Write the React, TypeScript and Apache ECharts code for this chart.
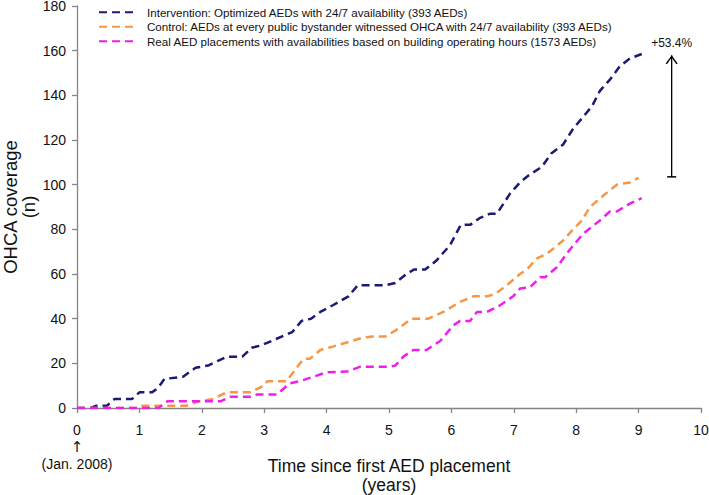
import React, { useEffect, useRef } from "react";
import * as echarts from "echarts";

const seriesNames = [
  "Intervention: Optimized AEDs with 24/7 availability (393 AEDs)",
  "Control: AEDs at every public bystander witnessed OHCA with 24/7 availability (393 AEDs)",
  "Real AED placements with availabilities based on building operating hours (1573 AEDs)",
];
const seriesColors = ["#1b1b74", "#f79646", "#ee1fee"];

const interventionYears = [0, 0.22, 0.3, 0.48, 0.6, 0.88, 1.0, 1.2, 1.3, 1.4, 1.7, 1.9, 2.1, 2.25, 2.4, 2.65, 2.8, 2.95, 3.2, 3.45, 3.6, 3.75, 3.9, 4.1, 4.35, 4.5, 4.95, 5.1, 5.28, 5.4, 5.58, 5.76, 5.98, 6.15, 6.3, 6.45, 6.62, 6.73, 6.94, 7.1, 7.23, 7.45, 7.6, 7.79, 7.95, 8.1, 8.25, 8.38, 8.54, 8.7, 8.86, 9.05];
const interventionValues = [0, 0, 1, 1, 4, 4, 7, 7, 9, 13, 14, 18, 19, 21, 23, 23, 27, 28, 31, 34, 39, 40, 43, 46, 50, 55, 55, 56, 60, 62, 62, 66, 73, 82, 82, 85, 87, 87, 96, 101, 104, 108, 114, 118, 125, 130, 135, 142, 147, 153, 156.5, 158.5];

const controlYears = [0, 1.0, 1.05, 1.75, 1.95, 2.18, 2.4, 2.77, 3.0, 3.05, 3.36, 3.52, 3.63, 3.73, 3.9, 4.1, 4.37, 4.59, 4.75, 4.94, 5.12, 5.36, 5.63, 5.87, 6.14, 6.35, 6.57, 6.7, 6.89, 7.1, 7.21, 7.37, 7.53, 7.79, 7.95, 8.09, 8.22, 8.43, 8.65, 8.86, 9.0];
const controlValues = [0, 0, 1, 1, 3, 4, 7, 7, 10, 12, 12, 18, 22, 22, 26, 27.5, 29.7, 31.6, 32, 32, 35, 40, 40, 43, 47.5, 50, 50, 51, 55, 60, 62, 67, 69, 75, 80, 84, 90, 95, 100, 101, 103];

const realYears = [0, 1.3, 1.45, 2.3, 2.45, 2.77, 2.88, 3.2, 3.41, 3.57, 3.79, 4.0, 4.33, 4.54, 5.02, 5.1, 5.23, 5.39, 5.6, 5.82, 6.03, 6.14, 6.3, 6.41, 6.57, 6.78, 6.99, 7.1, 7.26, 7.42, 7.5, 7.69, 7.9, 8.11, 8.38, 8.54, 8.65, 8.86, 9.05];
const realValues = [0, 0, 3, 3, 5, 5, 6, 6, 11, 12, 14, 16, 16.3, 18.5, 18.5, 19, 23, 26, 26, 30, 37, 39, 39, 43, 43, 46, 50, 53.5, 54, 58.5, 58.5, 63, 71, 78, 84, 88, 88, 91.5, 94];

const annotationX = 9.53;
const annotationFrom = 103.5;
const annotationTo = 158;
const annotationLabel = "+53.4%";

const xMin = 0;
const xMax = 10;
const xInterval = 1;
const yMin = 0;
const yMax = 180;
const yInterval = 20;
const originArrow = "↑";
const originNote = "(Jan. 2008)";

const xTitle = "Time since first AED placement\n(years)";
const yTitle = "OHCA coverage\n(n)";

const FONT = "'Liberation Sans', Arial, sans-serif";

const zip = (xs: number[], ys: number[]) => xs.map((x, i) => [x, ys[i]]);

export default function App() {
  const ref = useRef<HTMLDivElement>(null);
  useEffect(() => {
    if (!ref.current) return;
    const chart = echarts.init(ref.current, undefined, { renderer: "svg" });
    const data = [
      zip(interventionYears, interventionValues),
      zip(controlYears, controlValues),
      zip(realYears, realValues),
    ];
    const lineSeries = data.map((d, i) => ({
      name: seriesNames[i],
      type: "line",
      data: d,
      symbol: "none",
      showSymbol: false,
      color: seriesColors[i],
      lineStyle: { color: seriesColors[i], width: 2.5, type: [8, 5] },
      z: 2 + i,
    }));
    const axisColor = "#858585";
    chart.setOption({
      animation: false,
      textStyle: { fontFamily: FONT },
      grid: { left: 77, right: 8, top: 6, bottom: 87, containLabel: false, outerBoundsMode: "none" },
      legend: {
        data: seriesNames,
        orient: "vertical",
        left: 93,
        top: 0,
        itemWidth: 34,
        itemHeight: 10,
        itemGap: 0,
        itemStyle: { color: "transparent", borderColor: "transparent", borderWidth: 0, opacity: 0 },
        textStyle: {
          fontFamily: FONT,
          fontSize: 11.6,
          color: "#111",
          lineHeight: 14.5,
          padding: [0, 0, 0, 9],
        },
      },
      xAxis: {
        type: "value",
        min: xMin,
        max: xMax,
        interval: xInterval,
        name: xTitle,
        nameLocation: "middle",
        nameGap: 48,
        nameMoveOverlap: false,
        nameTextStyle: { fontFamily: FONT, fontSize: 17.5, color: "#111", lineHeight: 19 },
        axisLine: { lineStyle: { color: axisColor, width: 1.3 } },
        axisTick: { show: true, length: 5, lineStyle: { color: axisColor, width: 1.3 } },
        splitLine: { show: false },
        axisLabel: {
          margin: 13,
          fontFamily: FONT,
          fontSize: 14,
          color: "#111",
          lineHeight: 17,
          formatter: (v: number) => (v === 0 ? `0\n{arr|${originArrow}}\n${originNote}` : `${v}`),
          rich: {
            arr: { fontFamily: "'DejaVu Sans', sans-serif", fontSize: 15, color: "#111", lineHeight: 17 },
          },
        },
      },
      yAxis: {
        type: "value",
        min: yMin,
        max: yMax,
        interval: yInterval,
        name: yTitle,
        nameLocation: "middle",
        nameGap: 40,
        nameMoveOverlap: false,
        nameRotate: 90,
        nameTextStyle: { fontFamily: FONT, fontSize: 18.5, color: "#111", lineHeight: 18 },
        axisLine: { show: true, lineStyle: { color: axisColor, width: 1.3 } },
        axisTick: { show: true, length: 5, lineStyle: { color: axisColor, width: 1.3 } },
        splitLine: { show: false },
        axisLabel: { margin: 11, fontFamily: FONT, fontSize: 14, lineHeight: 12, color: "#111" },
      },
      series: [
        ...lineSeries,
        {
          name: "annotation",
          type: "line",
          z: 10,
          lineStyle: { color: "#000", width: 1.3, type: "solid" },
          itemStyle: { color: "#000" },
          data: [
            { value: [annotationX, annotationFrom], symbol: "rect", symbolSize: [9, 1.5] },
            {
              value: [annotationX, annotationTo],
              symbol: "path://M0,9.2 L5,0 L10,9.2 L8.9,10 L5,2.6 L1.1,10 Z",
              symbolSize: [12, 9],
              symbolOffset: [0, "50%"],
              label: {
                show: true,
                position: "top",
                distance: 6,
                formatter: annotationLabel,
                fontFamily: FONT,
                fontSize: 12,
                color: "#111",
              },
            },
          ],
        },
      ],
    });
    return () => chart.dispose();
  }, []);
  return <div ref={ref} style={{ width: 709, height: 495, position: "absolute", left: 0, top: 0 }} />;
}
